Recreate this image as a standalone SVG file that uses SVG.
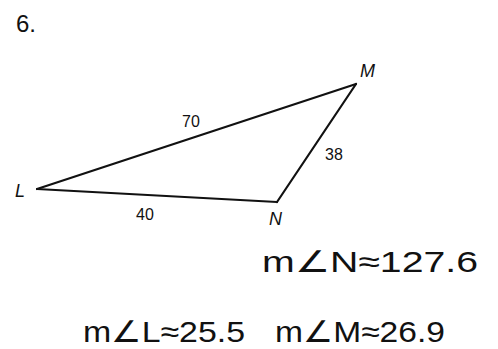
<svg xmlns="http://www.w3.org/2000/svg" width="498" height="349" viewBox="0 0 498 349">
<style>
.lbl{font-family:"Liberation Sans",Arial,sans-serif;font-size:16px;fill:#111}
.vx{font-family:"Liberation Sans",Arial,sans-serif;font-size:18px;font-style:italic;fill:#111}
.hw{font-family:"Liberation Sans",Arial,sans-serif;font-size:30px;fill:#111}
.edge{stroke:#111;stroke-width:2.2;fill:none;stroke-linecap:round}
</style>
<rect width="498" height="349" fill="#fff"/>
<text x="16" y="32" class="lbl" style="font-size:24px">6.</text>
<g id="connectors">
<line class="edge" x1="37" y1="189" x2="356" y2="84"/>
<line class="edge" x1="356" y1="84" x2="277" y2="202"/>
<line class="edge" x1="37" y1="189" x2="277" y2="202"/>
</g>
<g id="L"><text x="15" y="197" class="vx">L</text></g>
<g id="M"><text x="360" y="77" class="vx">M</text></g>
<g id="N"><text x="269" y="225" class="vx">N</text></g>
<g id="lbl70"><text x="182" y="127" class="lbl">70</text></g>
<g id="lbl38"><text x="325" y="160" class="lbl">38</text></g>
<g id="lbl40"><text x="136" y="220" class="lbl">40</text></g>
<text x="262" y="272" class="hw" textLength="216" lengthAdjust="spacingAndGlyphs">m∠N≈127.6</text>
<text x="83" y="342" class="hw" textLength="162" lengthAdjust="spacingAndGlyphs">m∠L≈25.5</text>
<text x="275" y="342" class="hw" textLength="170" lengthAdjust="spacingAndGlyphs">m∠M≈26.9</text>
</svg>
